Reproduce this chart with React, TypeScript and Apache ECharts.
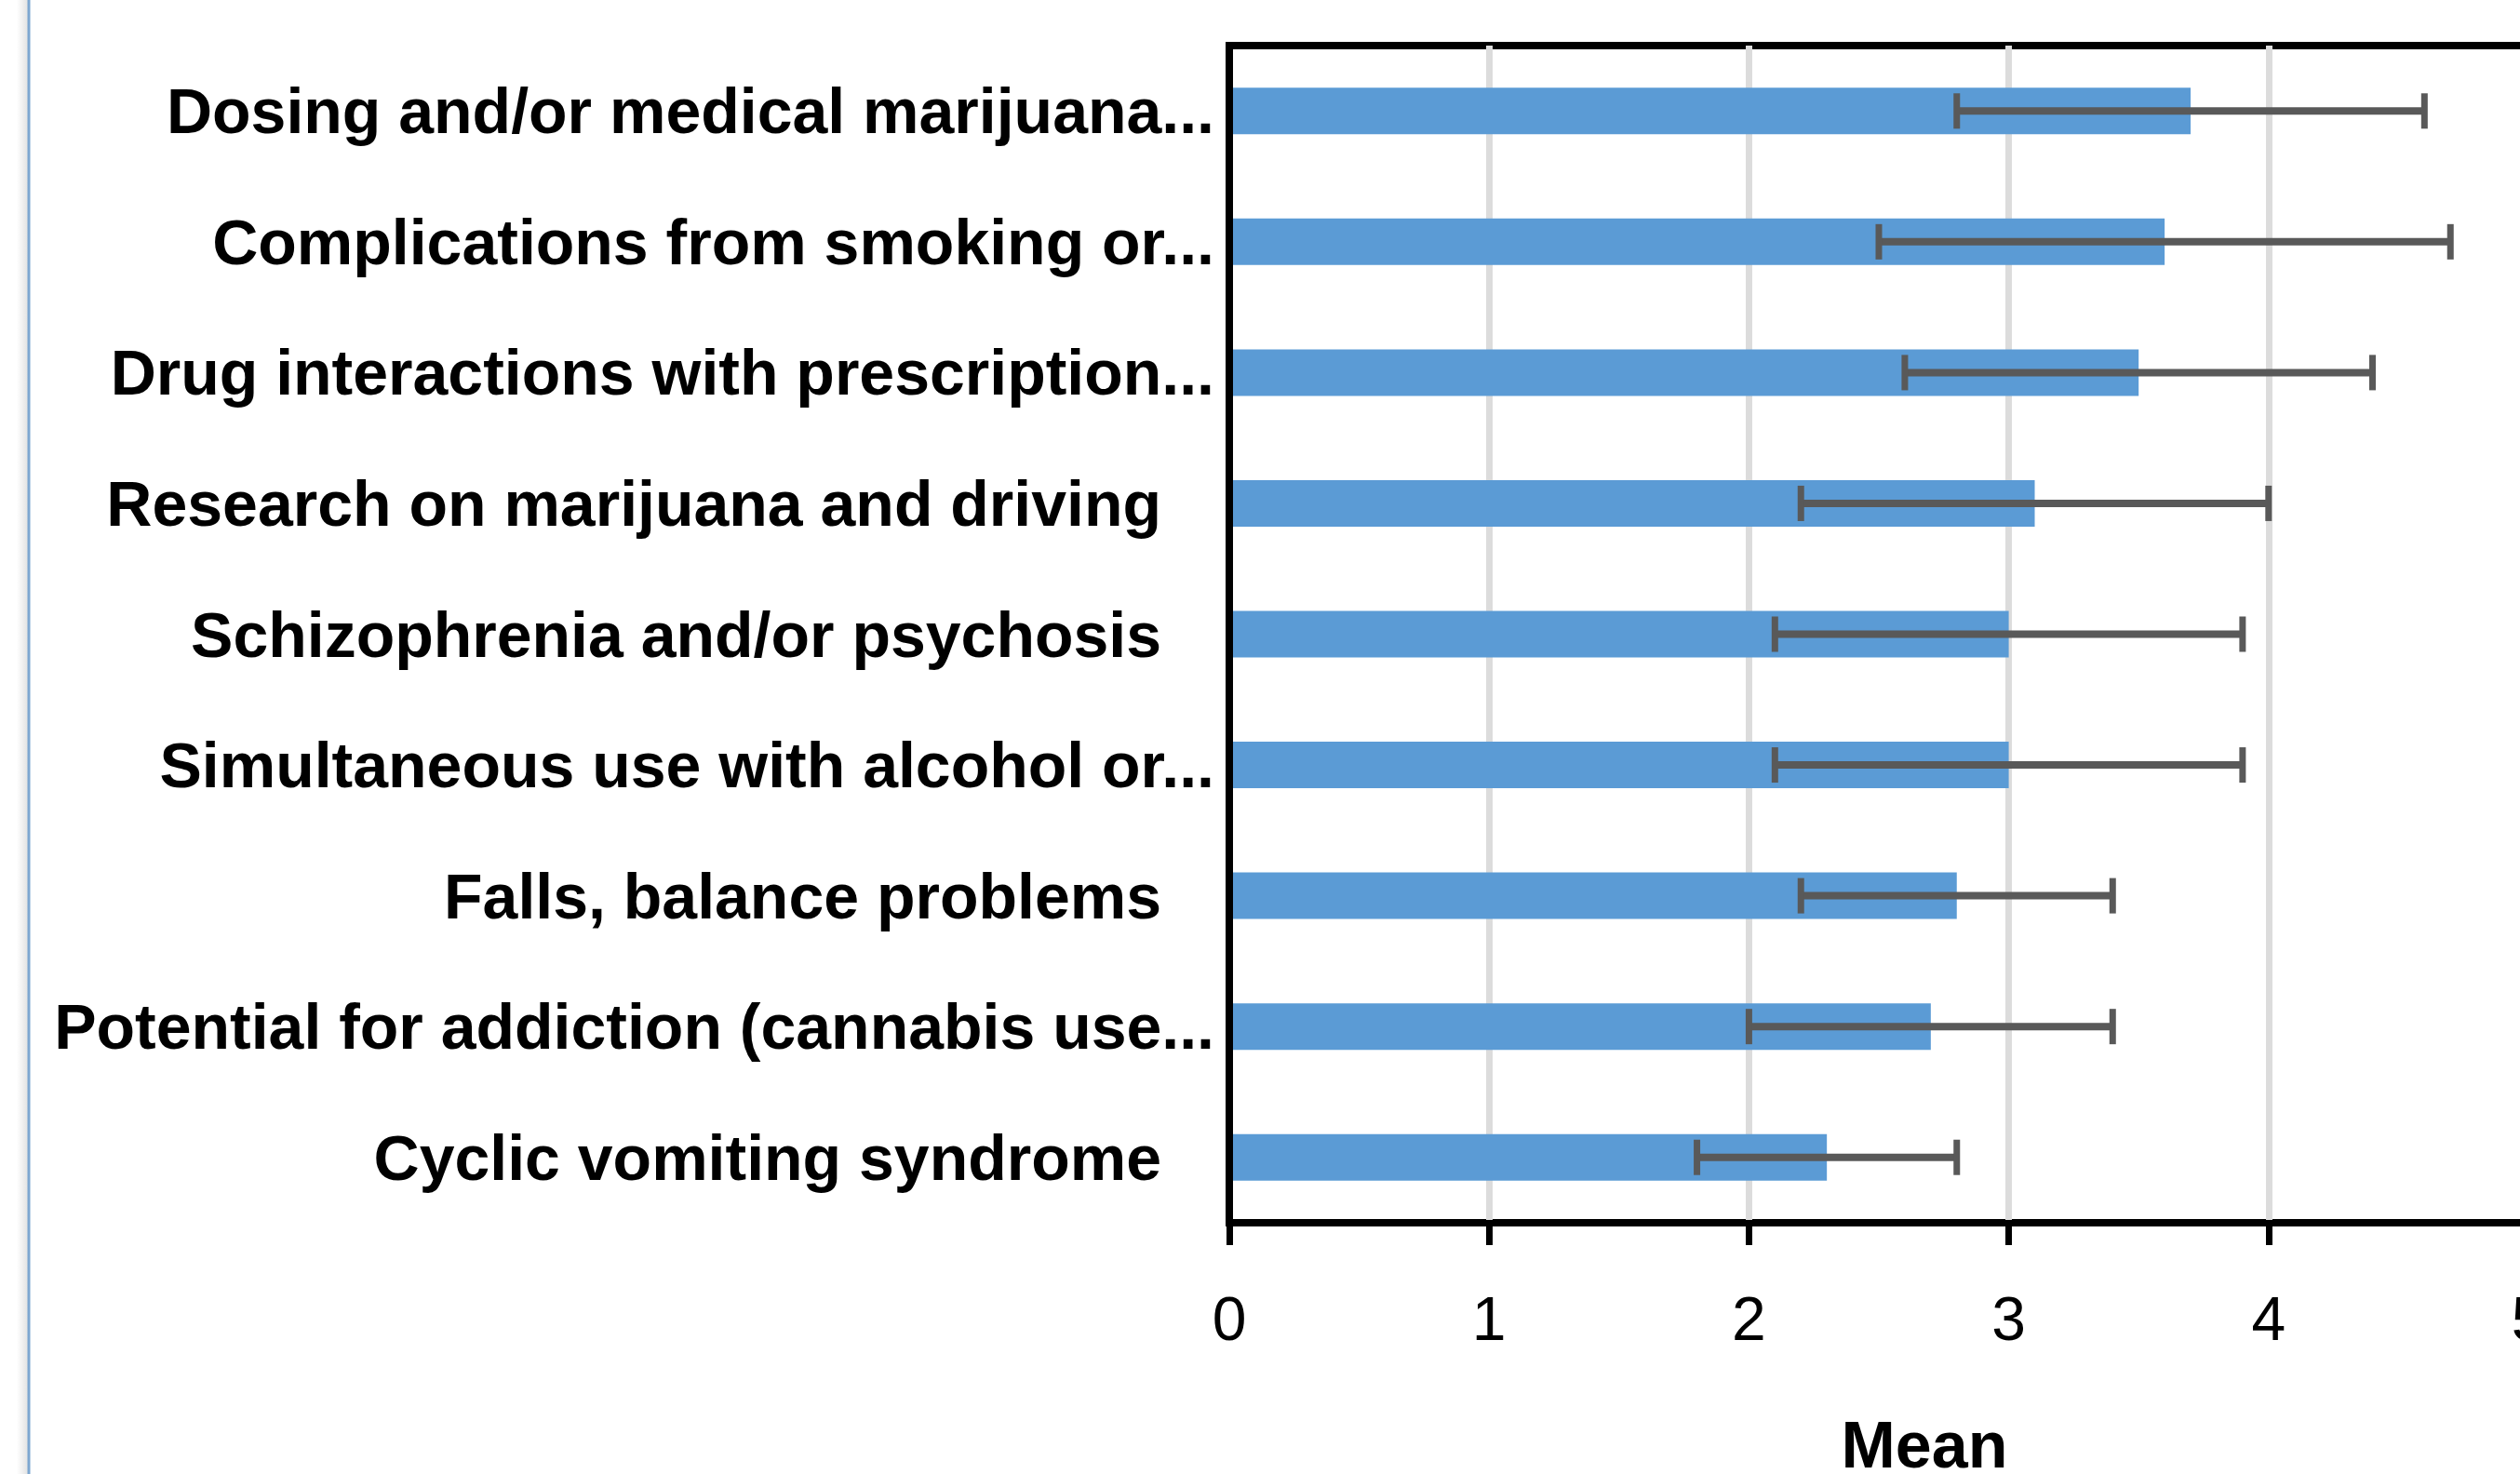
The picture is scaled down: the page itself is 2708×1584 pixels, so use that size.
import React, { useEffect, useRef } from "react";
import * as echarts from "echarts";

const categories = [
  "Dosing and/or medical marijuana...",
  "Complications from smoking or...",
  "Drug interactions with prescription...",
  "Research on marijuana and driving",
  "Schizophrenia and/or psychosis",
  "Simultaneous use with alcohol or...",
  "Falls, balance problems",
  "Potential for addiction (cannabis use...",
  "Cyclic vomiting syndrome",
];
const means = [3.7, 3.6, 3.5, 3.1, 3.0, 3.0, 2.8, 2.7, 2.3];
const sds = [0.9, 1.1, 0.9, 0.9, 0.9, 0.9, 0.6, 0.7, 0.5];
const xTicks = [0, 1, 2, 3, 4, 5];
const xTitle = "Mean";

export default function App() {
  const ref = useRef<HTMLDivElement>(null);
  useEffect(() => {
    if (!ref.current) return;
    const chart = echarts.init(ref.current, null, { renderer: "svg" });
    const errData = means.map((m, i) => [i, +(m - sds[i]).toFixed(2), +(m + sds[i]).toFixed(2)]);
    const labelFont = "'Liberation Sans', Arial, sans-serif";
    chart.setOption({
      animation: false,
      backgroundColor: "#ffffff",
      grid: {
        left: 1321,
        top: 49,
        width: 1396,
        height: 1265,
        show: true,
        borderColor: "#000000",
        borderWidth: 8,
        backgroundColor: "transparent",
        containLabel: false,
        outerBoundsMode: "none",
      },
      xAxis: {
        type: "value",
        min: xTicks[0],
        max: xTicks[xTicks.length - 1],
        interval: 1,
        axisLine: { show: true, lineStyle: { color: "#000000", width: 7 } },
        axisTick: { show: true, inside: false, length: 24, lineStyle: { color: "#000000", width: 7 } },
        axisLabel: {
          show: true,
          margin: 70,
          color: "#000000",
          fontFamily: labelFont,
          fontSize: 66,
          fontWeight: "normal",
          hideOverlap: false,
        },
        splitLine: { show: true, lineStyle: { color: "#dcdcdc", width: 7 } },
        name: xTitle,
        nameLocation: "middle",
        nameGap: 204,
        nameTextStyle: {
          color: "#000000",
          fontFamily: labelFont,
          fontSize: 70,
          fontWeight: "bold",
          padding: [0, 0, 0, 98],
        },
      },
      yAxis: {
        type: "category",
        data: categories,
        inverse: true,
        z: 10,
        axisLine: { show: true, lineStyle: { color: "#000000", width: 7 } },
        axisTick: { show: false },
        splitLine: { show: false },
        axisLabel: {
          margin: 16,
          formatter: (v: string) => (v.endsWith("...") ? `{t|${v}}` : `{p|${v}}`),
          rich: {
            t: { fontFamily: labelFont, fontSize: 68, fontWeight: "bold", color: "#000000" },
            p: {
              fontFamily: labelFont,
              fontSize: 68,
              fontWeight: "bold",
              color: "#000000",
              padding: [0, 57, 0, 0],
            },
          },
        },
      },
      series: [
        {
          type: "bar",
          data: means,
          barWidth: 50,
          itemStyle: { color: "#5b9bd5" },
        },
        {
          type: "custom",
          data: errData,
          encode: { x: [1, 2], y: 0 },
          z: 5,
          renderItem: (params: any, api: any) => {
            const c = api.value(0);
            const lo = api.coord([api.value(1), c]);
            const hi = api.coord([api.value(2), c]);
            const h = 19;
            const col = "#595959";
            return {
              type: "group",
              children: [
                { type: "line", shape: { x1: lo[0], y1: lo[1], x2: hi[0], y2: hi[1] }, style: { stroke: col, lineWidth: 8 } },
                { type: "line", shape: { x1: lo[0], y1: lo[1] - h, x2: lo[0], y2: lo[1] + h }, style: { stroke: col, lineWidth: 7 } },
                { type: "line", shape: { x1: hi[0], y1: hi[1] - h, x2: hi[0], y2: hi[1] + h }, style: { stroke: col, lineWidth: 7 } },
              ],
            };
          },
        },
      ],
      graphic: [
        {
          type: "rect",
          shape: { x: 18, y: 0, width: 12, height: 1584 },
          style: {
            fill: new echarts.graphic.LinearGradient(0, 0, 1, 0, [
              { offset: 0, color: "#ffffff" },
              { offset: 1, color: "#e2e2e2" },
            ]),
          },
          silent: true,
        },
        {
          type: "line",
          shape: { x1: 31, y1: 0, x2: 31, y2: 1584 },
          style: { stroke: "#7da7d1", lineWidth: 3 },
          silent: true,
        },
      ],
    });
    return () => chart.dispose();
  }, []);
  return (
    <div
      ref={ref}
      style={{ position: "absolute", left: 0, top: 0, width: 2708, height: 1584, background: "#fff" }}
    />
  );
}
